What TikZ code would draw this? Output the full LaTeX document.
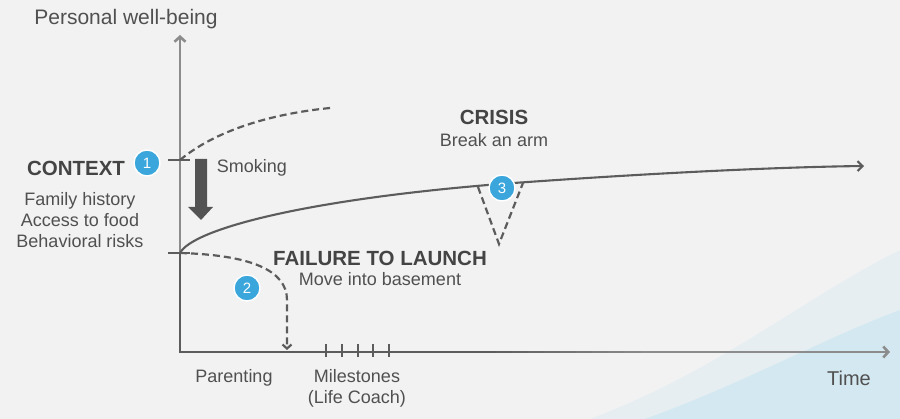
\documentclass[tikz,border=0pt]{standalone}
\usepackage{fontspec}
\setmainfont{Liberation Sans}
\usetikzlibrary{arrows.meta,positioning}
\definecolor{bgcol}{HTML}{F2F2F2}
\definecolor{axiscol}{HTML}{8C8C8C}
\definecolor{darkcol}{HTML}{5C5C5C}
\definecolor{textcol}{HTML}{505050}
\definecolor{badgecol}{HTML}{3AA6DC}
\definecolor{skylight}{HTML}{E6EEF2}
\definecolor{skydark}{HTML}{D3E8F0}
\tikzset{
    badge/.style ={
        shape=circle,
        draw=white,
        fill=badgecol,
        line width=1.4pt,
        text=white,
        inner sep=0pt,
        minimum size=26pt,
        font=\fontsize{15}{15}\selectfont
    },
    head/.style ={
        text=textcol!85!black,
        font=\bfseries\fontsize{20.5}{22}\selectfont
    },
    body/.style ={
        text=textcol,
        align=center,
        font=\fontsize{18}{21}\selectfont
    },
    axisline/.style ={
        draw=axiscol,
        line width=2.6pt,
        -{Straight Barb[length=5pt,width=11pt]}
    },
    dashline/.style ={
        draw=darkcol,
        line width=2.2pt,
        dash pattern=on 7pt off 4pt
    }
}

\begin{document}
\begin{tikzpicture}[x=1pt,y=-1pt]
    \fill[bgcol] (0,0) rectangle (900,419);
    \useasboundingbox (0,0) rectangle (900,419);
    % background swoosh
    \fill[skylight] (590,419) .. controls (720,370) and (800,300) .. (900,250) -- (900,419) -- cycle;
    \fill[skydark] (645,419) .. controls (740,385) and (820,340) .. (900,310) -- (900,419) -- cycle;

    \coordinate (origin) at (180,352);
    \coordinate (ytop) at (180,35);
    \coordinate (xend) at (890,352);
    \coordinate (hightick) at (180,160);
    \coordinate (lowtick) at (180,253);
    \coordinate (fade) at (480,352);
    \coordinate (curveend) at (864,166);
    \coordinate (dashend) at (330,108);
    \coordinate (dropend) at (287,350);
    \coordinate (dipleft) at (478,187);
    \coordinate (dipbottom) at (499,244);
    \coordinate (dipright) at (523,183);

    \draw[axisline] (origin) -- (ytop);
    \draw[axisline] (origin) -- (xend);
    \draw[darkcol, line width=2.8pt] (lowtick) -- (origin) -- (fade);
    \foreach \i in {0,...,9}
        \draw[darkcol!\the\numexpr 100-10*\i\relax!axiscol, line width=2.8pt]
            ([xshift=16*\i] fade) -- ++(16.5,0);
    \draw[darkcol, line width=2pt] (hightick) ++(-12,0) -- ++(22,0);
    \draw[darkcol, line width=2pt] (lowtick) ++(-12,0) -- ++(22,0);
    \foreach \x in {326,342,358,373,389}
        \draw[darkcol, line width=2.4pt] (\x,344) -- (\x,357);

    % curves
    \draw[darkcol, line width=2.1pt, -{Straight Barb[length=5pt,width=10pt]}]
        (lowtick) .. controls (192,230) and (300,200) .. (500,184)
        .. controls (650,173) and (780,167) .. (curveend);
    \draw[dashline] (hightick) .. controls (210,135) and (260,115) .. (dashend);
    \draw[dashline, -{Straight Barb[length=4pt,width=9pt]}]
        (lowtick) .. controls (250,255) and (287,270) .. (287,300) -- (dropend);
    \draw[dashline] (dipleft) -- (dipbottom) -- (dipright);

    % smoking arrow
    \fill[darkcol!90!black] (195,159) -- (207,159) -- (207,207) -- (213,207)
        -- (201,220) -- (188,207) -- (195,207) -- cycle;

    \node[badge] (one) at (147,163) {1};
    \node[badge] (two) at (247,288) {2};
    \node[badge] (three) at (502,188) {3};

    \node[body, font=\fontsize{21}{22}\selectfont] (wellbeing) at (126,19) {Personal well-being};
    \node[head] (context) at (76,168) {CONTEXT};
    \node[body] (risks) at (80,220) {Family history\\Access to food\\Behavioral risks};
    \node[body] (smoking) at (252,168) {Smoking};
    \node[head] (crisis) at (494,117) {CRISIS};
    \node[body] (arm) at (494,140) {Break an arm};
    \node[head] (failure) at (380,258) {FAILURE TO LAUNCH};
    \node[body] (basement) at (380,279) {Move into basement};
    \node[body] (parenting) at (234,378) {Parenting};
    \node[body] (milestones) at (357,388) {Milestones\\(Life Coach)};
    \node[body, font=\fontsize{20}{22}\selectfont] (time) at (849,378) {Time};
\end{tikzpicture}
\end{document}
